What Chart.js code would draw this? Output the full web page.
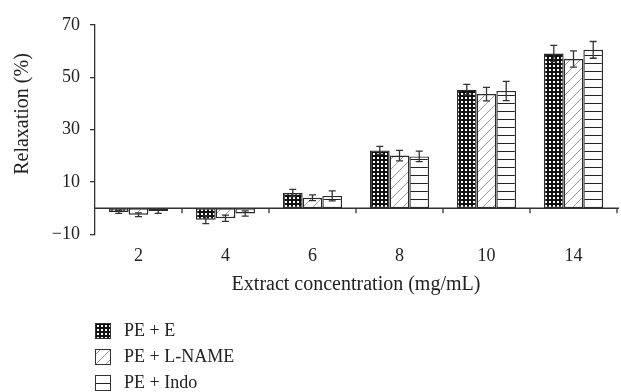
<!DOCTYPE html>
<html>
<head>
<meta charset="utf-8">
<script src="https://cdn.jsdelivr.net/npm/chart.js@4/dist/chart.umd.min.js"></script>
<style>
    body { margin: 0; background: #fff; }
</style>
</head>
<body>
<canvas id="chart" width="621" height="392"></canvas>
<script>
const concentrations = ['2', '4', '6', '8', '10', '14'];
const seriesNames = ['PE + E', 'PE + L-NAME', 'PE + Indo'];
const peE = [-1.4, -4.4, 5.8, 22.1, 45.3, 59.1];
const peEErr = [0.6, 1.5, 1.4, 1.5, 2.0, 3.1];
const peLName = [-2.5, -3.8, 4.0, 20.1, 43.6, 57.0];
const peLNameErr = [0.7, 1.2, 1.1, 2.0, 2.6, 3.1];
const peIndo = [-1.1, -2.0, 4.7, 19.8, 44.8, 60.5];
const peIndoErr = [0.9, 1.0, 1.9, 2.0, 3.7, 3.2];
const yTicks = [-10, 10, 30, 50, 70];

const textColor = '#222';
const serif = "'Liberation Serif', 'DejaVu Serif', serif";

function makePattern(kind) {
    const c = document.createElement('canvas');
    const ctx = c.getContext('2d');
    if (kind === 'dots') {
        c.width = 4; c.height = 4;
        ctx.fillStyle = '#111';
        ctx.fillRect(0, 0, 4, 4);
        ctx.fillStyle = '#fff';
        ctx.fillRect(1, 1, 2, 2);
    } else if (kind === 'hatch') {
        c.width = 10; c.height = 10;
        ctx.fillStyle = '#fff';
        ctx.fillRect(0, 0, 10, 10);
        ctx.strokeStyle = '#9a9a9a';
        ctx.lineWidth = 1;
        ctx.beginPath();
        ctx.moveTo(0, 10); ctx.lineTo(10, 0);
        ctx.moveTo(-1, 1); ctx.lineTo(1, -1);
        ctx.moveTo(9, 11); ctx.lineTo(11, 9);
        ctx.stroke();
    } else {
        c.width = 8; c.height = 8;
        ctx.fillStyle = '#fff';
        ctx.fillRect(0, 0, 8, 8);
        ctx.fillStyle = '#222';
        ctx.fillRect(0, 7, 8, 1.3);
    }
    return ctx.createPattern(c, 'repeat');
}

const fills = [makePattern('dots'), makePattern('hatch'), makePattern('lines')];
const errors = [peEErr, peLNameErr, peIndoErr];

// zero line, category ticks, error bars
const overlayPlugin = {
    id: 'overlay',
    afterDatasetsDraw(chart) {
        const ctx = chart.ctx;
        const area = chart.chartArea;
        const y = chart.scales.y;
        const y0 = y.getPixelForValue(0);
        ctx.save();
        ctx.strokeStyle = '#333';
        ctx.lineWidth = 1.3;
        ctx.beginPath();
        ctx.moveTo(area.left, y0);
        ctx.lineTo(area.right + 2, y0);
        const step = (area.right - area.left) / concentrations.length;
        for (let k = 1; k <= concentrations.length; k++) {
            const x = area.left + k * step;
            ctx.moveTo(x, y0);
            ctx.lineTo(x, y0 + 5);
        }
        ctx.stroke();

        chart.data.datasets.forEach((ds, i) => {
            const meta = chart.getDatasetMeta(i);
            meta.data.forEach((bar, j) => {
                const v = ds.data[j];
                const e = errors[i][j];
                const top = y.getPixelForValue(v + e);
                const bot = y.getPixelForValue(v - e);
                ctx.beginPath();
                ctx.moveTo(bar.x, top);
                ctx.lineTo(bar.x, bot);
                ctx.moveTo(bar.x - 3.5, top);
                ctx.lineTo(bar.x + 3.5, top);
                ctx.moveTo(bar.x - 3.5, bot);
                ctx.lineTo(bar.x + 3.5, bot);
                ctx.stroke();
            });
        });
        ctx.restore();
    },
    afterDraw(chart) {
        const ctx = chart.ctx;
        ctx.save();
        // y title
        ctx.fillStyle = textColor;
        ctx.font = '20px ' + serif;
        ctx.textAlign = 'center';
        ctx.textBaseline = 'middle';
        ctx.translate(23, 114);
        ctx.rotate(-Math.PI / 2);
        ctx.fillText('Relaxation (%)', 0, 0);
        ctx.restore();

        // legend, stacked
        ctx.save();
        ctx.font = '18px ' + serif;
        ctx.textBaseline = 'middle';
        seriesNames.forEach((name, i) => {
            const top = 323 + i * 26;
            ctx.fillStyle = fills[i];
            ctx.fillRect(95, top, 15, 15);
            ctx.strokeStyle = '#333';
            ctx.lineWidth = 1;
            ctx.strokeRect(95.5, top + 0.5, 15, 15);
            ctx.fillStyle = textColor;
            ctx.fillText(name, 124, top + 8);
        });
        ctx.restore();
    }
};

const datasets = [peE, peLName, peIndo].map((values, i) => ({
    label: seriesNames[i],
    data: values,
    backgroundColor: fills[i],
    borderColor: '#2a2a2a',
    borderWidth: 1.4,
    borderSkipped: false,
    categoryPercentage: 0.68,
    barPercentage: 1.0
}));

new Chart(document.getElementById('chart'), {
    type: 'bar',
    data: { labels: concentrations, datasets: datasets },
    options: {
        responsive: false,
        animation: false,
        layout: { padding: { left: 0, top: 25, right: 4, bottom: 95 } },
        plugins: {
            legend: { display: false },
            tooltip: { enabled: false }
        },
        scales: {
            x: {
                grid: { display: false, drawTicks: false },
                border: { display: false },
                ticks: { color: textColor, padding: 11, font: { family: serif, size: 18 } },
                title: {
                    display: true,
                    text: 'Extract concentration (mg/mL)',
                    color: textColor,
                    font: { family: serif, size: 20 },
                    padding: { top: -5, bottom: 0 }
                }
            },
            y: {
                min: -10,
                max: 70,
                afterFit(scale) { scale.width = 95; },
                afterBuildTicks(scale) { scale.ticks = yTicks.map(v => ({ value: v })); },
                grid: { drawOnChartArea: false, drawTicks: true, tickLength: 5, color: '#333', lineWidth: 1.3 },
                border: { display: true, color: '#333', width: 1.3 },
                ticks: {
                    color: textColor,
                    padding: 10,
                    font: { family: serif, size: 18 },
                    callback: v => String(v).replace('-', '\u2212')
                }
            }
        }
    },
    plugins: [overlayPlugin]
});
</script>
</body>
</html>
